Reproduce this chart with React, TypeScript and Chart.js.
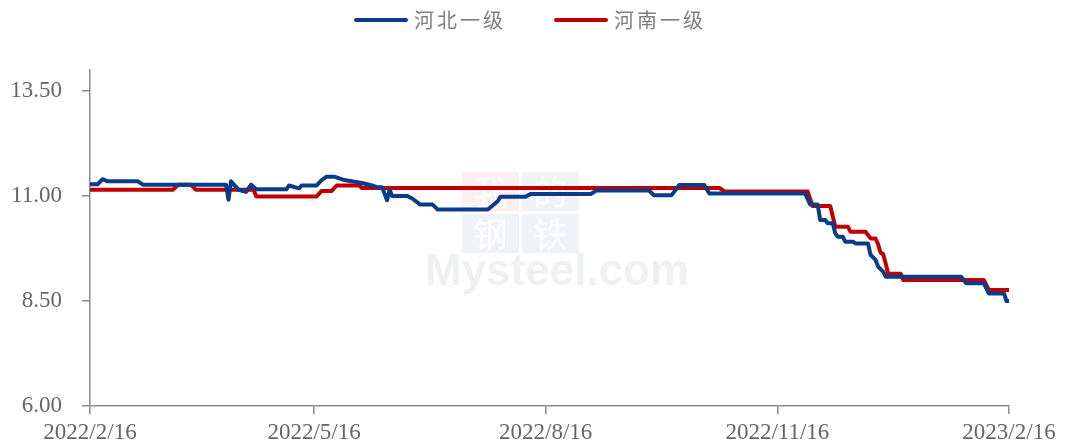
import { useEffect, useRef } from 'react';
import { Chart, registerables } from 'chart.js';

Chart.register(...registerables);

const seriesNames = ['河北一级', '河南一级'];
const seriesColors = ['#0b3c8c', '#c00000'];

const hebeiDates = [
  '2022-02-16', '2022-02-19', '2022-02-21', '2022-02-23', '2022-03-07', '2022-03-09',
  '2022-04-11', '2022-04-12', '2022-04-13', '2022-04-16', '2022-04-19', '2022-04-21',
  '2022-04-23', '2022-05-05', '2022-05-06', '2022-05-10', '2022-05-11', '2022-05-17',
  '2022-05-19', '2022-05-21', '2022-05-24', '2022-05-28', '2022-06-01', '2022-06-04',
  '2022-06-08', '2022-06-10', '2022-06-12', '2022-06-14', '2022-06-15', '2022-06-16',
  '2022-06-22', '2022-06-24', '2022-06-27', '2022-07-02', '2022-07-04', '2022-07-24',
  '2022-07-26', '2022-07-28', '2022-07-29', '2022-08-08', '2022-08-10', '2022-09-03',
  '2022-09-05', '2022-09-26', '2022-09-28', '2022-10-05', '2022-10-08', '2022-10-18',
  '2022-10-20', '2022-11-27', '2022-11-29', '2022-12-02', '2022-12-03', '2022-12-05',
  '2022-12-06', '2022-12-08', '2022-12-09', '2022-12-10', '2022-12-12', '2022-12-13',
  '2022-12-16', '2022-12-17', '2022-12-22', '2022-12-23', '2022-12-25', '2022-12-26',
  '2022-12-28', '2022-12-29', '2023-01-28', '2023-01-30', '2023-02-06', '2023-02-08',
  '2023-02-14', '2023-02-15', '2023-02-16',
];
const hebeiValues = [
  11.28, 11.28, 11.40, 11.35, 11.35, 11.27,
  11.27, 10.91, 11.35, 11.15, 11.10, 11.27,
  11.16, 11.16, 11.25, 11.18, 11.25, 11.25,
  11.38, 11.46, 11.46, 11.38, 11.34, 11.31,
  11.25, 11.21, 11.21, 10.90, 11.15, 11.00,
  11.00, 10.94, 10.80, 10.80, 10.68, 10.68,
  10.78, 10.88, 10.98, 10.98, 11.05, 11.05,
  11.13, 11.13, 11.02, 11.02, 11.26, 11.26,
  11.06, 11.06, 10.80, 10.80, 10.43, 10.43,
  10.35, 10.35, 10.11, 10.03, 10.03, 9.91,
  9.91, 9.87, 9.87, 9.60, 9.48, 9.32,
  9.20, 9.08, 9.08, 8.92, 8.92, 8.68,
  8.68, 8.50, 8.50,
];

const henanDates = [
  '2022-02-16', '2022-03-21', '2022-03-23', '2022-03-28', '2022-03-30', '2022-04-22',
  '2022-04-23', '2022-05-17', '2022-05-19', '2022-05-23', '2022-05-25', '2022-06-03',
  '2022-06-04', '2022-10-24', '2022-10-26', '2022-11-28', '2022-11-30', '2022-12-07',
  '2022-12-09', '2022-12-14', '2022-12-15', '2022-12-21', '2022-12-23', '2022-12-25',
  '2022-12-26', '2022-12-27', '2022-12-28', '2022-12-29', '2022-12-30', '2023-01-04',
  '2023-01-05', '2023-02-06', '2023-02-08', '2023-02-16',
];
const henanValues = [
  11.15, 11.15, 11.27, 11.27, 11.15, 11.15,
  10.99, 10.99, 11.12, 11.12, 11.25, 11.25,
  11.19, 11.19, 11.11, 11.11, 10.76, 10.76,
  10.27, 10.27, 10.15, 10.15, 9.99, 9.99,
  9.85, 9.65, 9.62, 9.40, 9.15, 9.15,
  9.00, 9.00, 8.76, 8.76,
];

const xTickLabels = ['2022/2/16', '2022/5/16', '2022/8/16', '2022/11/16', '2023/2/16'];
const yTickValues = [6, 8.5, 11, 13.5];
const yMin = 6;
const yMax = 14;

const watermarkChars = ['我', '的', '钢', '铁'];
const watermarkText = 'Mysteel.com';

const START = Date.UTC(2022, 1, 16);
function dayIndex(s: string): number {
  const [y, m, d] = s.split(/[-/]/).map(Number);
  return Math.round((Date.UTC(y, m - 1, d) - START) / 86400000);
}

const xTickPositions = xTickLabels.map(dayIndex);

const AXIS_COLOR = '#8c8c8c';
const TICK_COLOR = '#666666';
const SERIF = '"Liberation Serif", "Times New Roman", serif';

const watermarkPlugin = {
  id: 'watermark',
  beforeDatasetsDraw(chart: any) {
    const ctx = chart.ctx as CanvasRenderingContext2D;
    ctx.save();
    const boxes = [
      { x: 462, y: 172, c: '#fcefef' },
      { x: 522, y: 172, c: '#f1f2f7' },
      { x: 462, y: 214, c: '#f1f2f7' },
      { x: 522, y: 214, c: '#f1f2f7' },
    ];
    boxes.forEach((b, i) => {
      ctx.fillStyle = b.c;
      ctx.fillRect(b.x, b.y, 57, 39);
      ctx.fillStyle = '#ffffff';
      ctx.font = '34px "Noto Sans CJK SC"';
      ctx.textAlign = 'center';
      ctx.textBaseline = 'middle';
      ctx.fillText(watermarkChars[i], b.x + 28.5, b.y + 20);
    });
    ctx.fillStyle = '#eff0f4';
    ctx.font = 'bold 44px "Liberation Sans", Arial, sans-serif';
    ctx.textAlign = 'left';
    ctx.textBaseline = 'alphabetic';
    ctx.fillText(watermarkText, 425, 285);
    ctx.restore();
  },
};

const legendPlugin = {
  id: 'customLegend',
  afterDraw(chart: any) {
    const ctx = chart.ctx as CanvasRenderingContext2D;
    ctx.save();
    ctx.font = '20px "Noto Sans CJK SC", sans-serif';
    (ctx as any).letterSpacing = '3px';
    const lineW = 52;
    const gap = 8;
    const itemGap = 48;
    const items = chart.data.datasets.map((ds: any) => ({
      label: ds.label as string,
      color: ds.borderColor as string,
      w: lineW + gap + ctx.measureText(ds.label).width,
    }));
    const total = items.reduce((a: number, it: any) => a + it.w, 0) + itemGap * (items.length - 1);
    let x = chart.width / 2 - 4 - total / 2;
    const y = 20;
    items.forEach((it: any) => {
      ctx.strokeStyle = it.color;
      ctx.lineWidth = 4;
      ctx.lineCap = 'round';
      ctx.beginPath();
      ctx.moveTo(x + 2, y);
      ctx.lineTo(x + lineW, y);
      ctx.stroke();
      ctx.fillStyle = '#7f7f7f';
      ctx.textAlign = 'left';
      ctx.textBaseline = 'middle';
      ctx.fillText(it.label, x + lineW + gap, y);
      x += it.w + itemGap;
    });
    ctx.restore();
  },
};

export default function App() {
  const canvasRef = useRef<HTMLCanvasElement | null>(null);

  useEffect(() => {
    if (!canvasRef.current) return;
    const makeData = (dates: string[], values: number[]) =>
      dates.map((d, i) => ({ x: dayIndex(d), y: values[i] }));

    const chart = new Chart(canvasRef.current, {
      type: 'line',
      data: {
        datasets: [
          {
            label: seriesNames[0],
            data: makeData(hebeiDates, hebeiValues),
            borderColor: seriesColors[0],
            backgroundColor: seriesColors[0],
            borderWidth: 4,
            pointRadius: 0,
            tension: 0,
            borderJoinStyle: 'round',
            borderCapStyle: 'round',
          },
          {
            label: seriesNames[1],
            data: makeData(henanDates, henanValues),
            borderColor: seriesColors[1],
            backgroundColor: seriesColors[1],
            borderWidth: 4,
            pointRadius: 0,
            tension: 0,
            borderJoinStyle: 'round',
            borderCapStyle: 'round',
          },
        ],
      },
      options: {
        responsive: false,
        animation: false,
        layout: { padding: { top: 70, right: 59, left: 0, bottom: 0 } },
        plugins: {
          legend: { display: false },
          tooltip: { enabled: false },
        },
        scales: {
          x: {
            type: 'linear',
            min: xTickPositions[0],
            max: xTickPositions[xTickPositions.length - 1],
            afterBuildTicks: (scale: any) => {
              scale.ticks = xTickPositions.map((v) => ({ value: v }));
            },
            afterFit: (scale: any) => {
              scale.height = 42;
            },
            ticks: {
              autoSkip: false,
              maxRotation: 0,
              minRotation: 0,
              padding: 5,
              color: TICK_COLOR,
              font: { family: SERIF, size: 23 },
              callback: (_v: any, i: number) => xTickLabels[i],
            },
            grid: {
              drawOnChartArea: false,
              drawTicks: true,
              tickLength: 8,
              color: AXIS_COLOR,
              lineWidth: 1.5,
            },
            border: { display: true, color: AXIS_COLOR, width: 1.5 },
          },
          y: {
            type: 'linear',
            min: yMin,
            max: yMax,
            afterBuildTicks: (scale: any) => {
              scale.ticks = yTickValues.map((v) => ({ value: v }));
            },
            afterFit: (scale: any) => {
              scale.width = 90;
            },
            ticks: {
              padding: 20,
              color: TICK_COLOR,
              font: { family: SERIF, size: 23 },
              callback: (v: any) => Number(v).toFixed(2),
            },
            grid: {
              drawOnChartArea: false,
              drawTicks: true,
              tickLength: 8,
              color: AXIS_COLOR,
              lineWidth: 1.5,
            },
            border: { display: true, color: AXIS_COLOR, width: 1.5 },
          },
        },
      },
      plugins: [watermarkPlugin, legendPlugin],
    } as any);

    return () => chart.destroy();
  }, []);

  return (
    <canvas
      ref={canvasRef}
      width={1068}
      height={448}
      style={{ position: 'fixed', left: 0, top: 0, width: 1068, height: 448 }}
    />
  );
}
